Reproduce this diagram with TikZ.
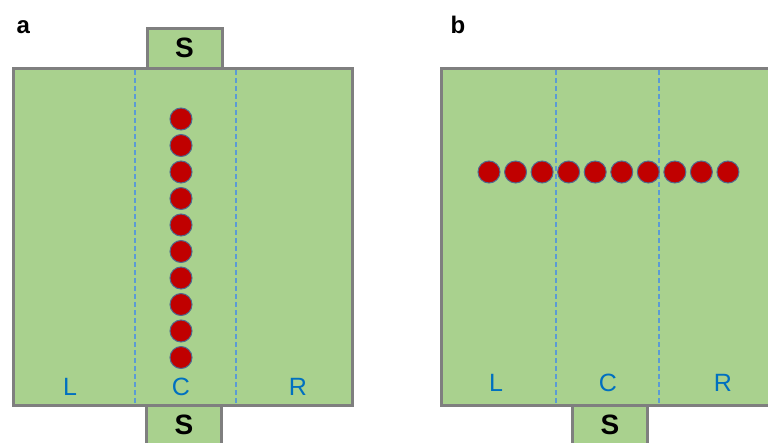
\documentclass[tikz,border=0pt]{standalone}
\usepackage{fontspec}
\setmainfont{Liberation Sans}
\definecolor{platebg}{HTML}{A9D18E}
\definecolor{plateline}{HTML}{7F7F7F}
\definecolor{zoneline}{HTML}{5B9BD5}
\definecolor{zonetext}{HTML}{0070C0}
\definecolor{beadfill}{HTML}{C00000}
\definecolor{beadline}{HTML}{4F6A8F}

\tikzset{
plate/.style={rectangle,draw=plateline,fill=platebg,line width=3pt,inner sep=0pt},
source/.style={plate,minimum width=75pt,minimum height=40pt,
font=\fontsize{28}{28}\selectfont\bfseries},
zone/.style={draw=zoneline,line width=1.1pt,dash pattern=on 5pt off 3pt},
zonelabel/.style={text=zonetext,font=\fontsize{25}{25}\selectfont},
bead/.style={circle,draw=beadline,fill=beadfill,line width=1pt,
minimum size=22pt,inner sep=0pt},
panel/.style={anchor=base west,font=\fontsize{24}{24}\selectfont\bfseries}
}

\begin{document}
\begin{tikzpicture}[x=1pt,y=-1pt]
\useasboundingbox (0,0) rectangle (768,442);
\clip (0,0) rectangle (768,442);

% panel a
\node[panel] (labA) at (13,33) {a};
\node[source] (srcAtop) at (184.5,48) {S};
\node[source] (srcAbot) at (184,425) {S};
\node[plate,
minimum width=339pt,minimum height=337pt]
(plateA) at (182.5,236.5) {};
\draw[zone] (135,70) -- (135,404);
\draw[zone] (236,70) -- (236,404);
\foreach \i in {0,...,9}
\node[bead] (beadA\i) at (181,119+26.5*\i) {};
\node[zonelabel] (zoneAL) at (70,387) {L};
\node[zonelabel] (zoneAC) at (181,387) {C};
\node[zonelabel] (zoneAR) at (298,387) {R};

% panel b
\node[panel] (labB) at (447,33) {b};
\node[source] (srcB) at (610,425) {S};
\node[plate,
minimum width=345pt,minimum height=337pt]
(plateB) at (613.5,236.5) {};
\draw[zone] (556,70) -- (556,404);
\draw[zone] (659,70) -- (659,404);
\foreach \i in {0,...,9}
\node[bead] (beadB\i) at (489+26.55*\i,172) {};
\node[zonelabel] (zoneBL) at (496,383) {L};
\node[zonelabel] (zoneBC) at (608,383) {C};
\node[zonelabel] (zoneBR) at (723,383) {R};
\end{tikzpicture}
\end{document}
